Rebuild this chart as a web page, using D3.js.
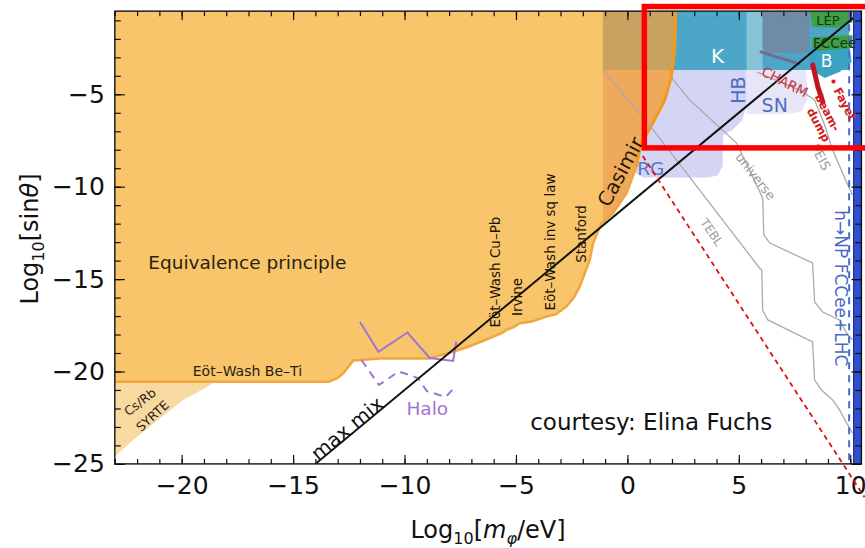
<!DOCTYPE html>
<html><head><meta charset="utf-8">
<script src="https://cdn.jsdelivr.net/npm/d3@7"></script>
<style>body{margin:0;background:#fff}svg{display:block}text{font-family:"DejaVu Sans",sans-serif}</style>
</head><body><svg id="c" width="865" height="548"></svg>
<script>
// ---------- data (log10 m / eV , log10 sin theta) ----------
const xTickLabels = [-20, -15, -10, -5, 0, 5, 10];
const yTickLabels = [-25, -20, -15, -10, -5];
const equivBoundary = [[-23,-20.55],[-13.4,-20.55],[-13.0,-20.35],[-12.75,-20.1],[-12.3,-19.4],[-11.1,-19.3],[-8.9,-19.3],[-8.0,-19.0],[-7.1,-18.65],[-6.2,-18.2],[-5.6,-17.9],[-5.43,-17.75],[-5.1,-17.6],[-4.83,-17.39],[-4.3,-17.3],[-3.63,-17.03],[-3.2,-16.9],[-2.74,-16.49],[-2.4,-16.0],[-2.14,-15.41],[-1.69,-13.97],[-1.54,-13.06],[-1.17,-11.98],[-0.65,-11.44],[-0.04,-10.36],[0.40,-8.92],[0.6,-7.7],[1.14,-6.55],[1.68,-5.31],[1.97,-4.05],[2.12,-2.6],[2.17,-0.5]];
const syrteRegion = [[-23,-20.55],[-18.5,-20.55],[-18.88,-20.85],[-19.93,-21.54],[-20.97,-22.53],[-22.17,-23.71],[-23,-24.6]];
const kOverlap = [[-1.1,-3.69],[1.97,-3.69],[2.12,-2.6],[2.17,-0.5],[-1.1,-0.5]];
const kBand = [[-1.1,-0.5],[9.95,-0.5],[9.95,-3.69],[-1.1,-3.69]];
const kLight = [[5.35,-0.5],[6.07,-0.5],[6.07,-3.69],[5.35,-3.69]];
const grayBlock = [[6.07,-0.5],[8.18,-0.5],[8.18,-2.77],[6.3,-2.77],[6.07,-2.5]];
const grayTail = [[6.0,-2.7],[6.6,-2.95],[7.3,-3.2],[7.7,-3.35]];
const bRegion = [[8.08,-2.49],[9.97,-2.49],[10.06,-3.25],[9.52,-3.79],[8.85,-4.12],[8.26,-3.69]];
const lepRegion = [[8.2,-0.55],[10.1,-0.55],[10.1,-1.1],[9.4,-1.4],[8.3,-1.35]];
const fccRegion = [[8.3,-1.9],[10.1,-1.8],[10.1,-2.5],[8.5,-2.65],[8.3,-2.4]];
const rgHbRegion = [[0.0,-3.69],[5.35,-3.69],[5.35,-5.6],[5.15,-6.4],[4.7,-6.95],[4.3,-7.2],[4.27,-8.9],[4.05,-9.4],[3.6,-9.5],[0.7,-9.5],[0.3,-9.2],[0.2,-8.5]];
const snRegion = [[5.35,-3.69],[8.0,-3.69],[8.1,-5.2],[7.8,-5.95],[7.2,-6.05],[5.35,-6.05]];
const haloSolid = [[-12.0,-17.32],[-11.17,-18.93],[-9.87,-17.89],[-8.87,-19.27],[-7.82,-19.43],[-7.68,-18.40]];
const haloDashed = [[-11.93,-19.38],[-11.15,-20.73],[-10.26,-20.0],[-9.40,-20.35],[-9.0,-21.06],[-8.15,-21.38],[-7.74,-20.84]];
const universeLine = [[1.99,-4.12],[2.80,-5.31],[4.90,-7.64],[6.07,-10.61],[6.12,-12.61],[6.39,-13.05],[8.31,-14.13],[8.40,-16.24],[8.76,-16.78],[9.52,-17.21],[9.84,-17.92],[10.1,-18.29]];
const teblLine = [[-1.11,-3.69],[0.99,-6.66],[5.93,-14.40],[6.03,-14.51],[6.07,-16.67],[6.30,-17.21],[8.31,-18.40],[8.40,-20.46],[8.71,-21.0],[9.21,-21.54],[9.52,-22.08],[9.84,-22.79],[10.1,-23.33]];
const peisLine = [[5.80,-3.79],[7.73,-4.77],[8.40,-5.31],[8.85,-6.66],[9.21,-8.01],[9.75,-9.53],[10.1,-10.45]];
const charmStroke = [[8.32,-3.42],[8.55,-4.61],[8.77,-5.42]];
const maxMix = [[-14,-25],[10.5,-0.5]];
const npLineMass = 9.95;
const npBand = [10.15, 10.5];

// ---------- scales ----------
const svg = d3.select("#c");
const x = d3.scaleLinear().domain([-23, 10.5]).range([114.8, 861.4]);
const y = d3.scaleLinear().domain([-25, -0.5]).range([463.9, 11.14]);
const line = d3.line().x(d => x(d[0])).y(d => y(d[1]));
const poly = pts => line(pts) + "Z";

svg.append("defs").append("clipPath").attr("id","clip").append("rect")
  .attr("x", x(-23)).attr("y", y(-0.5)).attr("width", x(10.5)-x(-23)).attr("height", y(-25)-y(-0.5));
const g = svg.append("g").attr("clip-path","url(#clip)");

// regions
g.append("path").attr("d", poly(rgHbRegion)).attr("fill","#d4d4f4");
g.append("path").attr("d", poly(snRegion)).attr("fill","#e6e6f8");
g.append("path").attr("d", poly(kBand)).attr("fill","#4ba6c7");
g.append("path").attr("d", poly(kLight)).attr("fill","#86c2d8");
g.append("path").attr("d", poly(grayBlock)).attr("fill","#6e8ca6");
g.append("path").attr("d", line(grayTail)).attr("fill","none").attr("stroke","#756a8c").attr("stroke-width",3).attr("stroke-linecap","round");
g.append("path").attr("d", poly(bRegion)).attr("fill","#3aa2c2");
g.append("path").attr("d", poly(lepRegion)).attr("fill","#3f9e48");
g.append("path").attr("d", poly(fccRegion)).attr("fill","#3f9e48");

const equivPoly = [[-23,-0.5]].concat(equivBoundary);
g.append("path").attr("d", poly(equivPoly)).attr("fill","#f8c56b");
const casBand = [[-1.1,-0.5],[-1.1,-12.05]].concat(equivBoundary.filter(d => d[0] > -1.1));
g.append("path").attr("d", poly(casBand)).attr("fill","#eeaa5a");
g.append("path").attr("d", poly(kOverlap)).attr("fill","#c9a262");
g.append("path").attr("d", poly(syrteRegion)).attr("fill","#f9d9a2");
g.append("path").attr("d", line(equivBoundary)).attr("fill","none").attr("stroke","#f2a63c").attr("stroke-width",2.5);
g.append("path").attr("d", line(equivBoundary.filter(d => d[0] > 0.3))).attr("fill","none").attr("stroke","#f39a1c").attr("stroke-width",3);

// gray lines
[universeLine, teblLine, peisLine].forEach(l =>
  g.append("path").attr("d", line(l)).attr("fill","none").attr("stroke","#aaaaaa").attr("stroke-width",1.3));

// halo
g.append("path").attr("d", line(haloSolid)).attr("fill","none").attr("stroke","#9f76cf").attr("stroke-width",2);
g.append("path").attr("d", line(haloDashed)).attr("fill","none").attr("stroke","#9f76cf").attr("stroke-width",2).attr("stroke-dasharray","8,6");

// max mix
g.append("path").attr("d", line(maxMix)).attr("stroke","#111").attr("stroke-width",2);

// charm stroke
g.append("path").attr("d", line(charmStroke)).attr("fill","none").attr("stroke","#c0141e").attr("stroke-width",5).attr("stroke-linecap","round");

// NP band and dashed line
g.append("rect").attr("x", x(npBand[0])).attr("y", y(-0.5)).attr("width", x(npBand[1])-x(npBand[0])).attr("height", y(-25)-y(-0.5)).attr("fill","#2f50d0");
g.append("line").attr("x1", x(npBand[0])).attr("x2", x(npBand[0])).attr("y1", y(-0.5)).attr("y2", y(-25)).attr("stroke","#1c2f95").attr("stroke-width",1.2);
g.append("line").attr("x1", x(npLineMass)).attr("x2", x(npLineMass)).attr("y1", y(-0.5)).attr("y2", y(-25)).attr("stroke","#4a6bd0").attr("stroke-width",2).attr("stroke-dasharray","7,6");

// ---------- labels ----------
function label(txt, m, s, o) {
  return svg.append("text")
    .attr("transform", `translate(${x(m)},${y(s)}) rotate(${o.rot || 0})`)
    .attr("text-anchor", o.anchor || "middle").attr("dy", "0.35em")
    .style("font-size", o.size + "px").style("font-weight", o.bold ? "bold" : "normal")
    .attr("fill", o.color || "#1a1a1a").text(txt);
}
label("Equivalence principle", -21.5, -14.1, {size:18.5, anchor:"start", color:"#2a1f10"});
label("Eöt–Wash Be–Ti", -17.05, -20.0, {size:14, color:"#2a1f10"});
label("Cs/Rb", -21.87, -21.65, {size:12.5, rot:-38, color:"#2a1f10"});
label("SYRTE", -21.31, -22.41, {size:12.5, rot:-42, color:"#2a1f10"});
label("Eöt–Wash Cu–Pb", -5.95, -14.62, {size:13.5, rot:-90, color:"#1a1208"});
label("Irvine", -4.92, -15.97, {size:13.5, rot:-90, color:"#1a1208"});
label("Eöt–Wash inv sq law", -3.48, -12.99, {size:13.5, rot:-90, color:"#1a1208"});
label("Stanford", -2.05, -12.56, {size:13.5, rot:-90, color:"#1a1208"});
label("Casimir", -0.31, -9.19, {size:20, rot:-62, color:"#2a1a08"});
label("courtesy: Elina Fuchs", -4.36, -22.73, {size:23, anchor:"start", color:"#111"});
label("Halo", -8.98, -21.98, {size:18.5, color:"#9f76cf"});
label("max mix", -12.57, -23.08, {size:20, rot:-39.6, color:"#111"});
label("K", 4.05, -2.93, {size:20, color:"#ffffff"});
label("B", 8.94, -3.2, {size:17, color:"#ffffff"});
label("LEP", 9.0, -0.98, {size:13, color:"#123a12"});
label("FCCee", 9.3, -2.22, {size:13.5, color:"#123a12"});
label("HB", 5.0, -4.77, {size:19, rot:-90, color:"#4d6cc4"});
label("SN", 6.61, -5.58, {size:19, color:"#4d6cc4"});
label("RG", 1.05, -9.04, {size:18.5, color:"#5a74c8"});
label("CHARM", 7.06, -4.33, {size:13.5, rot:27, color:"#c8323c"});
label("• Fayet", 9.65, -5.25, {size:11.5, rot:62, color:"#d02020", bold:true});
label("beam-", 8.98, -5.98, {size:11.5, rot:62, color:"#d02020", bold:true});
label("dump", 8.58, -6.66, {size:11.5, rot:62, color:"#d02020", bold:true});
label("universe", 5.75, -9.43, {size:13, rot:52, color:"#9a9a9a"});
label("TEBL", 3.78, -12.46, {size:12, rot:56, color:"#9a9a9a"});
label("PEIS", 8.67, -8.39, {size:13, rot:62, color:"#9a9a9a"});
label("h→NP FCCee+LHC", 9.6, -15.5, {size:17, rot:90, color:"#4a68c8"});

// ---------- axes ----------
function styleAxis(sel) {
  sel.select(".domain").remove();
  sel.selectAll(".tick line").attr("stroke","#111").attr("stroke-width",1.2);
  sel.selectAll("text").attr("fill","#111").style("font-size","25px").style("font-family","DejaVu Sans");
}
const xMinor = d3.range(-23, 11);
const yMinor = d3.range(-25, 0);
svg.append("g").attr("transform",`translate(0,${y(-25)})`).call(d3.axisBottom(x).tickValues(xMinor).tickSize(-5).tickFormat("")).call(styleAxis);
svg.append("g").attr("transform",`translate(0,${y(-25)})`).call(d3.axisBottom(x).tickValues(xTickLabels).tickSize(-9).tickPadding(12)).call(styleAxis);
svg.append("g").attr("transform",`translate(0,${y(-0.5)})`).call(d3.axisTop(x).tickValues(xMinor).tickSize(-5).tickFormat("")).call(styleAxis);
svg.append("g").attr("transform",`translate(0,${y(-0.5)})`).call(d3.axisTop(x).tickValues(xTickLabels).tickSize(-9).tickFormat("")).call(styleAxis);
svg.append("g").attr("transform",`translate(${x(-23)},0)`).call(d3.axisLeft(y).tickValues(yMinor).tickSize(-6).tickFormat("")).call(styleAxis);
svg.append("g").attr("transform",`translate(${x(-23)},0)`).call(d3.axisLeft(y).tickValues(yTickLabels).tickSize(-10).tickPadding(10)).call(styleAxis);
svg.append("g").attr("transform",`translate(${x(10.5)},0)`).call(d3.axisRight(y).tickValues(yMinor).tickSize(-6).tickFormat("")).call(styleAxis);
svg.append("g").attr("transform",`translate(${x(10.5)},0)`).call(d3.axisRight(y).tickValues(yTickLabels).tickSize(-10).tickFormat("")).call(styleAxis);
svg.append("rect").attr("x", x(-23)).attr("y", y(-0.5)).attr("width", x(10.5)-x(-23)).attr("height", y(-25)-y(-0.5))
  .attr("fill","none").attr("stroke","#111").attr("stroke-width",1.4);

// axis titles
const yl = svg.append("text").attr("transform","translate(30,239) rotate(-90)").attr("text-anchor","middle").attr("dy","0.35em").style("font-size","24px").attr("fill","#111");
yl.append("tspan").text("Log");
yl.append("tspan").text("10").style("font-size","16px").attr("dy","6");
yl.append("tspan").text("[sin").attr("dy","-6");
yl.append("tspan").text("θ").style("font-style","italic");
yl.append("tspan").text("]");
const xl = svg.append("text").attr("transform","translate(488,530)").attr("text-anchor","middle").attr("dy","0.35em").style("font-size","24px").attr("fill","#111");
xl.append("tspan").text("Log");
xl.append("tspan").text("10").style("font-size","16px").attr("dy","6");
xl.append("tspan").text("[").attr("dy","-6");
xl.append("tspan").text("m").style("font-style","italic");
xl.append("tspan").text("φ").style("font-style","italic").style("font-size","16px").attr("dy","6");
xl.append("tspan").text("/eV]").attr("dy","-6");

// ---------- zoom annotation ----------
svg.append("rect").attr("x", x(0.76)).attr("y", y(-0.25)).attr("width", x(11.5)-x(0.76)).attr("height", y(-7.9)-y(-0.25))
  .attr("fill","none").attr("stroke","#ff0000").attr("stroke-width",5.5);
svg.append("line").attr("x1", x(0.69)).attr("y1", y(-8.34)).attr("x2", x(10.64)).attr("y2", y(-26.8))
  .attr("stroke","#e01010").attr("stroke-width",1.8).attr("stroke-dasharray","5,4");
</script></body></html>
